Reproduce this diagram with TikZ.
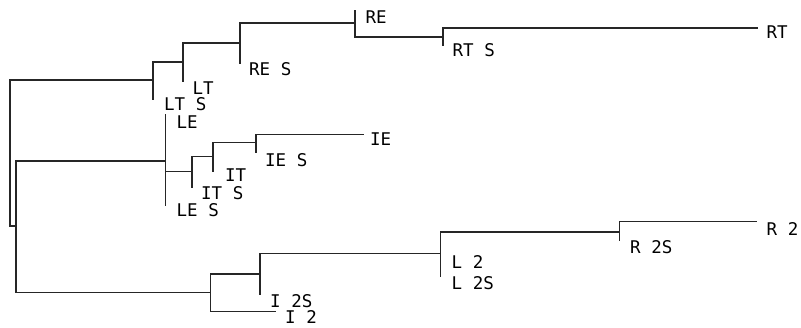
\documentclass[tikz,border=0pt]{standalone}
\usepackage{fontspec}
\setmonofont{DejaVu Sans Mono}
\begin{document}
\begin{tikzpicture}[x=1pt,y=-1pt,
  branch/.style={line width=1.3pt,line cap=rect,black!85},
  taxon/.style={font=\ttfamily\fontsize{17.5}{17.5}\selectfont,anchor=west,inner sep=0pt,text=black}]
\useasboundingbox (0,0) rectangle (801,327);

% internal nodes: entry point, top and bottom of each vertical bar
\coordinate (Rt) at (10,80);     \coordinate (Rb) at (10,226);
\coordinate (A)  at (153,80);    \coordinate (At) at (153,62);    \coordinate (Ab) at (153,99);
\coordinate (B)  at (183,62);    \coordinate (Bt) at (183,43);    \coordinate (Bb) at (183,81);
\coordinate (C)  at (240,43);    \coordinate (Ct) at (240,23);    \coordinate (Cb) at (240,63);
\coordinate (D)  at (355,23);    \coordinate (Dt) at (355,11);    \coordinate (Db) at (355,37);
\coordinate (E)  at (443,37);    \coordinate (Et) at (443,28);    \coordinate (Eb) at (443,45);
\coordinate (RTend) at (757,28);
\coordinate (F)  at (16,226);    \coordinate (Ft) at (16,161);    \coordinate (Fb) at (16,292.5);
\coordinate (G)  at (165.7,161); \coordinate (Gt) at (165.7,115); \coordinate (Gb) at (165.7,205);
\coordinate (Go) at (165.7,171.5);
\coordinate (H)  at (192,171.5); \coordinate (Ht) at (192,156.5); \coordinate (Hb) at (192,187.5);
\coordinate (I)  at (213,156.5); \coordinate (It) at (213,142.3); \coordinate (Ib) at (213,171);
\coordinate (J)  at (256,142.3); \coordinate (Jt) at (256,134.3); \coordinate (Jb) at (256,152.3);
\coordinate (IEend) at (363.3,134.3);
\coordinate (K)  at (210.7,292.5); \coordinate (Kt) at (210.7,274); \coordinate (Kb) at (210.7,311.7);
\coordinate (L)  at (260,274);   \coordinate (Lt) at (260,253.3); \coordinate (Lb) at (260,294.3);
\coordinate (M)  at (440.7,253.3); \coordinate (Mt) at (440.7,232); \coordinate (Mb) at (440.7,276);
\coordinate (N)  at (619.3,232); \coordinate (Nt) at (619.3,221.7); \coordinate (Nb) at (619.3,240.7);
\coordinate (R2end) at (756.7,221.7);
\coordinate (I2end) at (275,311.7);

% vertical bars
\foreach \n in {R,A,B,C,D,E,F,G,H,I,J,K,L,M,N}
  \draw[branch] (\n t) -- (\n b);

% horizontal branches
\draw[branch] (Rt) -- (A);
\draw[branch] (At) -- (B);
\draw[branch] (Bt) -- (C);
\draw[branch] (Ct) -- (D);
\draw[branch] (Db) -- (E);
\draw[branch] (Et) -- (RTend);
\draw[branch] (Rb) -- (F);
\draw[branch] (Ft) -- (G);
\draw[branch] (Go) -- (H);
\draw[branch] (Ht) -- (I);
\draw[branch] (It) -- (J);
\draw[branch] (Jt) -- (IEend);
\draw[branch] (Fb) -- (K);
\draw[branch] (Kt) -- (L);
\draw[branch] (Lt) -- (M);
\draw[branch] (Mt) -- (N);
\draw[branch] (Nt) -- (R2end);
\draw[branch] (Kb) -- (I2end);

% taxon labels
\node[taxon] (tRE)  at (365.5,17)  {RE};
\node[taxon] (tRT)  at (766.5,32)  {RT};
\node[taxon] (tRTS) at (452.5,50)  {RT S};
\node[taxon] (tRES) at (249,69)    {RE S};
\node[taxon] (tLT)  at (192.5,88)  {LT};
\node[taxon] (tLTS) at (164,104)   {LT S};
\node[taxon] (tLE)  at (176.5,122) {LE};
\node[taxon] (tIE)  at (370,139)   {IE};
\node[taxon] (tIES) at (265,160)   {IE S};
\node[taxon] (tIT)  at (225,175)   {IT};
\node[taxon] (tITS) at (201,193.5) {IT S};
\node[taxon] (tLES) at (176.5,210) {LE S};
\node[taxon] (tR2)  at (766.5,229) {R 2};
\node[taxon] (tR2S) at (630,247.5) {R 2S};
\node[taxon] (tL2)  at (451.5,262) {L 2};
\node[taxon] (tL2S) at (451.5,283) {L 2S};
\node[taxon] (tI2S) at (270,301)   {I 2S};
\node[taxon] (tI2)  at (285,317)   {I 2};
\end{tikzpicture}
\end{document}
